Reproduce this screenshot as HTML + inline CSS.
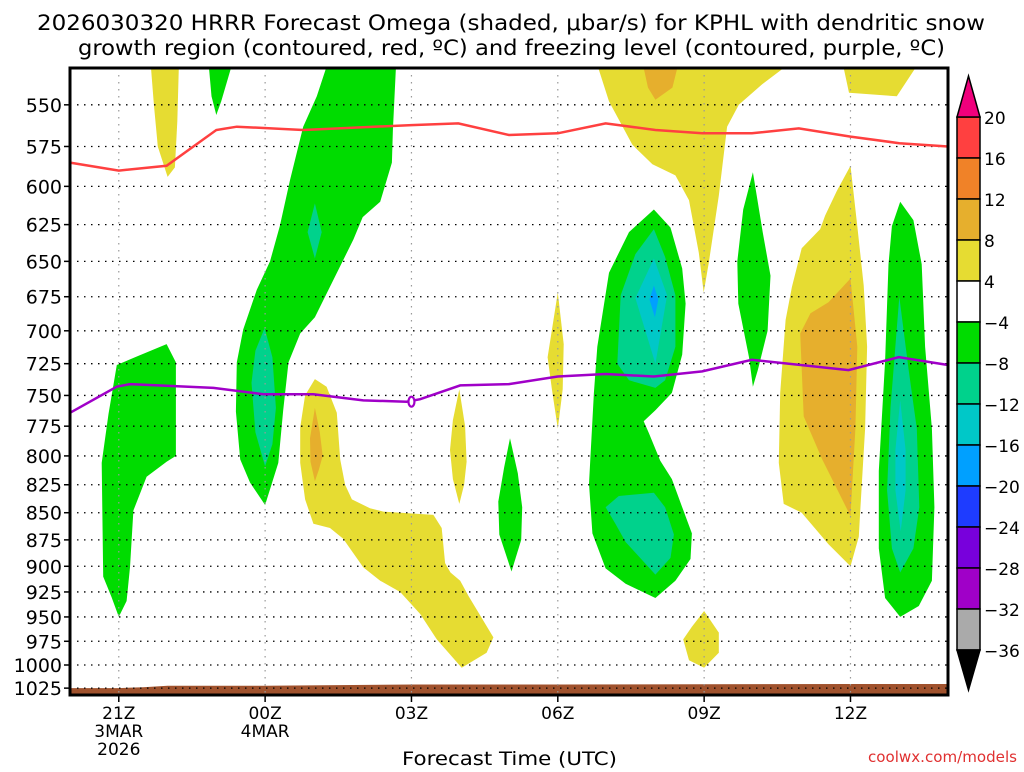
<!DOCTYPE html>
<html><head><meta charset="utf-8">
<style>
html,body{margin:0;padding:0;background:#fff;}
body{width:1024px;height:768px;overflow:hidden;font-family:"DejaVu Sans","Liberation Sans",sans-serif;}
svg text{font-family:"DejaVu Sans","Liberation Sans",sans-serif;}
</style></head>
<body>
<svg id="chart" width="1024" height="768" xmlns="http://www.w3.org/2000/svg">
<text x="37" y="30" font-size="21" textLength="948" lengthAdjust="spacingAndGlyphs">2026030320 HRRR Forecast Omega (shaded, μbar/s) for KPHL with dendritic snow</text>
<text x="78" y="55" font-size="21" textLength="867" lengthAdjust="spacingAndGlyphs">growth region (contoured, red, ºC) and freezing level (contoured, purple, ºC)</text>
<g id="shading"></g>
<g id="terrain"></g>
<g id="grid"></g>
<g id="lines"></g>
<rect x="70" y="68" width="878" height="627" fill="none" stroke="#000" stroke-width="3"/>
<g id="yaxis"></g>
<g id="xaxis"></g>
<text x="402" y="765" font-size="19" textLength="215" lengthAdjust="spacingAndGlyphs">Forecast Time (UTC)</text>
<text x="868" y="762" font-size="15" fill="#e03030" textLength="149" lengthAdjust="spacingAndGlyphs">coolwx.com/models</text>
<g id="cbar"></g>
</svg>
<script>
// ---- data ----
const pressureTicks = [550,575,600,625,650,675,700,725,750,775,800,825,850,875,900,925,950,975,1000,1025];
const timeTickHours = [1,4,7,10,13,16];
const timeTickLabels = [["21Z","3MAR","2026"],["00Z","4MAR"],["03Z"],["06Z"],["09Z"],["12Z"]];
const cbarLevels = [20,16,12,8,4,-4,-8,-12,-16,-20,-24,-28,-32,-36];
const cbarColors = ["#ff4040","#f08228","#e6af2d","#e6dc32","#ffffff","#00dc00","#00d28c","#00c8c8","#00a0ff","#1e3cff","#7800dc","#a000c8","#aaaaaa"];
const redHours = [0,1,1.98,3.0,3.42,4.78,7,7.96,9,10,10.98,12,12.96,13.98,14.94,16,17,18];
const redPres  = [585,590,587,565,563,565,562,561,568,567,561,565,567,567,564,569,573,575];
const purpleHours = [0,0.96,1.23,2.94,3.96,4.99,6.01,6.9,7.18,8.0,9.0,10,10.98,11.97,12.96,13.98,15.96,16.99,18];
const purplePres  = [764,743,741,744,749,749,754,755,753,742,741,735,733,735,731,722,730,720,726];
const groundHours = [0,1,1.5,2,4,7,10,16,18];
const groundPres  = [1025,1025,1024,1022.5,1022.5,1021,1021,1020.5,1020.5];
// shaded omega regions: [color, [[hour,hPa],...]]
const Y="#e6dc32",O="#e6af2d",G="#00dc00",T="#00d28c",C="#00c8c8",B="#00a0ff";
const regions = [
 [Y,[[1.66,528],[2.23,528],[2.2,560],[2.15,588],[2.0,594],[1.8,575],[1.72,550]]],
 [G,[[2.85,528],[3.3,528],[3.1,548],[3.0,556],[2.9,545]]],
 [G,[[5.25,528],[6.68,528],[6.62,565],[6.6,585],[6.36,610],[6.0,620],[5.81,635],[5.3,670],[5.02,690],[4.72,702],[4.48,724],[4.37,762],[4.27,806],[4.0,843],[3.69,823],[3.49,803],[3.4,763],[3.42,724],[3.55,699],[3.83,670],[4.1,650],[4.3,626],[4.51,596],[4.78,563],[5.06,545]]],
 [T,[[5.02,611],[5.16,630],[5.02,648],[4.87,630]]],
 [T,[[3.99,698],[4.15,720],[4.22,760],[4.15,790],[4.0,809],[3.8,780],[3.72,740],[3.8,715]]],
 [G,[[0.96,726],[1.4,719],[1.98,710],[2.17,724],[2.17,800],[1.98,805],[1.57,818],[1.3,848],[1.23,901],[1.16,934],[1.0,950],[0.85,930],[0.68,910],[0.65,806],[0.79,765]]],
 [Y,[[5.02,737],[5.26,743],[5.47,764],[5.54,803],[5.64,825],[5.78,838],[6.15,846],[6.42,849],[7.45,852],[7.62,864],[7.69,897],[7.8,906],[8.0,914],[8.17,929],[8.68,971],[8.54,987],[8.03,1003],[7.52,973],[7.18,947],[6.77,925],[6.36,914],[6.01,901],[5.6,874],[5.33,864],[4.99,860],[4.82,838],[4.72,806],[4.72,776],[4.82,750]]],
 [O,[[5.02,760],[5.12,780],[5.18,800],[5.1,812],[5.02,822],[4.93,805],[4.92,785]]],
 [Y,[[7.98,745],[8.1,775],[8.13,805],[8.08,825],[7.98,842],[7.85,820],[7.79,795],[7.85,770]]],
 [G,[[9.02,785],[9.18,815],[9.27,845],[9.25,875],[9.05,905],[8.8,870],[8.78,840],[8.9,810]]],
 [Y,[[10.0,672],[10.12,710],[10.1,745],[10.0,777],[9.88,745],[9.79,720]]],
 [Y,[[10.83,528],[14.63,528],[14.19,538],[13.71,550],[13.47,563],[13.3,606],[13.1,650],[12.99,672],[12.89,644],[12.69,609],[12.41,593],[11.94,586],[11.53,574],[11.05,548]]],
 [O,[[11.76,528],[12.45,528],[12.35,540],[12.0,547],[11.85,540]]],
 [Y,[[15.86,528],[17.33,528],[16.95,545],[15.97,543]]],
 [G,[[11.97,615],[12.31,627],[12.55,655],[12.62,680],[12.55,718],[12.34,748],[12.0,762],[11.76,771],[11.87,781],[12.1,804],[12.34,820],[12.55,845],[12.75,869],[12.72,893],[12.41,914],[12.0,931],[11.39,917],[10.98,902],[10.71,869],[10.64,824],[10.74,748],[10.81,712],[11.05,658],[11.46,630]]],
 [T,[[11.97,628],[12.2,647],[12.41,674],[12.41,712],[12.2,738],[12.0,744],[11.46,738],[11.22,725],[11.29,674],[11.59,645]]],
 [C,[[11.97,648],[12.24,674],[12.0,725],[11.59,676]]],
 [B,[[11.97,667],[12.06,677],[11.99,690],[11.88,677]]],
 [T,[[10.98,845],[11.25,835],[11.97,832],[12.2,845],[12.38,870],[12.31,892],[12.0,908],[11.39,877],[11.18,860]]],
 [Y,[[13.0,944],[13.3,966],[13.3,987],[13.0,1003],[12.69,995],[12.57,973],[12.75,960]]],
 [G,[[14.0,591],[14.2,630],[14.36,660],[14.3,700],[14.1,730],[14.0,743],[13.92,720],[13.7,680],[13.68,650],[13.8,615]]],
 [Y,[[16.0,587],[16.14,626],[16.27,667],[16.34,712],[16.3,777],[16.2,849],[16.17,872],[16.0,900],[15.55,879],[15.0,850],[14.63,842],[14.53,806],[14.56,748],[14.67,692],[14.8,668],[15.0,641],[15.38,628],[15.48,619],[15.72,603]]],
 [O,[[16.0,662],[16.14,712],[16.1,777],[16.0,853],[15.42,803],[15.04,767],[14.97,702],[15.18,687],[15.55,679]]],
 [G,[[17.02,610],[17.29,622],[17.46,652],[17.53,712],[17.67,777],[17.72,845],[17.67,914],[17.4,939],[17.02,950],[16.71,931],[16.58,883],[16.58,813],[16.71,723],[16.78,652],[16.85,626]]],
 [T,[[17.0,675],[17.19,729],[17.36,777],[17.41,845],[17.29,883],[17.02,906],[16.85,883],[16.75,830],[16.82,760]]],
 [C,[[17.02,754],[17.13,795],[17.13,830],[17.03,867],[16.92,830],[16.92,795]]]
];
// ---- axes ----
const NS="http://www.w3.org/2000/svg";
const X0=70,X1=948,Y0=68,Y1=695;
function xs(h){return X0+h*48.78;}
function ys(p){return 665-937*Math.log(1000/p);}
function mk(tag,attrs,parent){const e=document.createElementNS(NS,tag);for(const k in attrs)e.setAttribute(k,attrs[k]);parent.appendChild(e);return e;}
const pts=a=>a.map(q=>xs(q[0]).toFixed(1)+","+Math.max(Y0,ys(q[1])).toFixed(1)).join(" ");

const defs=mk("defs",{},document.getElementById("chart"));
const cp=mk("clipPath",{id:"plotclip"},defs);
mk("rect",{x:X0,y:Y0,width:X1-X0,height:Y1-Y0},cp);

const shading=document.getElementById("shading");
shading.setAttribute("clip-path","url(#plotclip)");
regions.forEach((r,i)=>{
  const el=mk("polygon",{points:pts(r[1]),fill:r[0]},shading);
  
  
});

const terr=document.getElementById("terrain");
const tp=groundHours.map((h,i)=>[h,groundPres[i]]);
const tpts=tp.map(q=>xs(q[0]).toFixed(1)+","+ys(q[1]).toFixed(1)).join(" ")+` ${X1},${Y1} ${X0},${Y1}`;
const tEl=mk("polygon",{points:tpts,fill:"#a0522d"},terr);



const grid=document.getElementById("grid");
pressureTicks.forEach(p=>{
  const y=ys(p);
  const l=mk("line",{x1:X0,x2:X1,y1:y,y2:y,stroke:"#000","stroke-width":1.3,"stroke-dasharray":"1.5 5.5"},grid);
  
  
});
timeTickHours.forEach(h=>{
  const x=xs(h);
  const l=mk("line",{x1:x,x2:x,y1:Y0,y2:Y1,stroke:"#999","stroke-width":1.2,"stroke-dasharray":"1.5 5.5"},grid);
  
  
});

const lines=document.getElementById("lines");
const redL=mk("polyline",{points:pts(redHours.map((h,i)=>[h,redPres[i]])),fill:"none",stroke:"#ff4040","stroke-width":2.5},lines);


const purL=mk("polyline",{points:pts(purpleHours.map((h,i)=>[h,purplePres[i]])),fill:"none",stroke:"#a000c8","stroke-width":2.5},lines);


const lab=mk("ellipse",{cx:xs(7),cy:ys(755),rx:3,ry:5,fill:"#fff",stroke:"#a000c8","stroke-width":2.2},lines);



const ya=document.getElementById("yaxis");
pressureTicks.forEach(p=>{
  const y=ys(p);
  const t=mk("line",{x1:X0-6,x2:X0,y1:y,y2:y,stroke:"#000","stroke-width":1.5},ya);
  
  
  const tx=mk("text",{x:X0-8,y:y+7,"font-size":19,"text-anchor":"end"},ya);
  tx.textContent=p;
  
  
});
const xa=document.getElementById("xaxis");
timeTickHours.forEach((h,i)=>{
  const x=xs(h);
  const t=mk("line",{x1:x,x2:x,y1:Y1,y2:Y1+7,stroke:"#000","stroke-width":1.5},xa);
  
  
  timeTickLabels[i].forEach((s,j)=>{
    const tx=mk("text",{x:x,y:719+j*18,"font-size":17,"text-anchor":"middle"},xa);
    tx.textContent=s;
    
    
  });
});
const cb=document.getElementById("cbar");
const CX=957,CW=23,CT=117,CS=41;
cbarColors.forEach((c,i)=>{
  const r=mk("rect",{x:CX,y:CT+i*CS,width:CW,height:CS,fill:c,stroke:"#000","stroke-width":1.5},cb);
  
  
});
const up=mk("polygon",{points:`${CX},${CT} ${CX+CW},${CT} ${CX+CW/2},${CT-41}`,fill:"#f0007c",stroke:"#000","stroke-width":1.5},cb);


const yb=CT+cbarColors.length*CS;
const dn=mk("polygon",{points:`${CX},${yb} ${CX+CW},${yb} ${CX+CW/2},${yb+40}`,fill:"#000",stroke:"#000","stroke-width":1.5},cb);


cbarLevels.forEach((v,i)=>{
  const tx=mk("text",{x:CX+CW+4,y:CT+i*CS+7,"font-size":17},cb);
  tx.textContent=v<0?"\u2212"+(-v):String(v);
  
  
});
</script>
</body></html>
